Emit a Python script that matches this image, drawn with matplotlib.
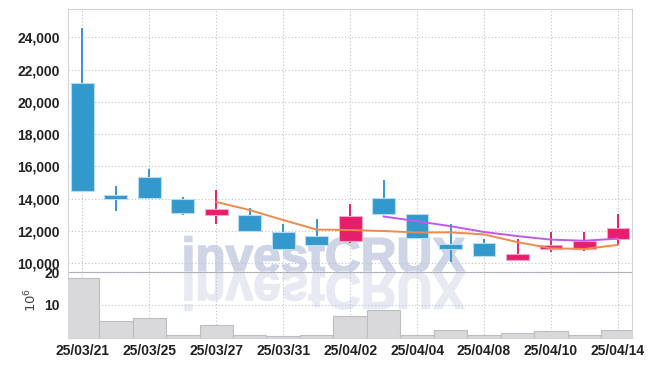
import numpy as np
import pandas as pd
import matplotlib
matplotlib.use('Agg')
import matplotlib.pyplot as plt
from matplotlib.textpath import TextPath
from matplotlib.font_manager import FontProperties
from matplotlib.patches import PathPatch
from matplotlib.transforms import Affine2D


# ---------------------------------------------
# data
# ---------------------------------------------
dates = ['25/03/21', '25/03/24', '25/03/25', '25/03/26', '25/03/27', '25/03/28',
         '25/03/31', '25/04/01', '25/04/02', '25/04/03', '25/04/04', '25/04/07',
         '25/04/08', '25/04/09', '25/04/10', '25/04/11', '25/04/14']
opens = [21150, 14200, 15350, 14000, 13000, 13000, 11950, 11700, 11400,
         14050, 13050, 11200, 11250, 10200, 10850, 10850, 11500]
highs = [24550, 14750, 15850, 14100, 14550, 13400, 12450, 12750, 13650,
         15150, 13050, 12400, 11500, 11500, 11950, 11900, 13050]
lows = [14500, 13250, 14000, 13000, 12400, 12000, 10850, 11050, 11250,
        13050, 11550, 10100, 10450, 10200, 10700, 10750, 11200]
closes = [14500, 13950, 14050, 13100, 13350, 12000, 10850, 11100, 12950,
          13050, 11550, 10900, 10450, 10550, 11150, 11350, 12150]
volumes = [18.1, 5.0, 5.9, 0.7, 3.7, 0.7, 0.35, 0.7, 6.5,
           8.3, 0.7, 2.2, 0.7, 1.3, 1.9, 0.7, 2.2]  # x 10^6

price_ticks = [10000, 12000, 14000, 16000, 18000, 20000, 22000, 24000]
vol_ticks = [10, 20]

df = pd.DataFrame({'open': opens, 'high': highs, 'low': lows,
                   'close': closes, 'volume': volumes})
df['ma5'] = df['close'].rolling(5).mean()
df['ma10'] = df['close'].rolling(10).mean()
x = np.arange(len(dates))

UP = '#e61e6c'
DOWN = '#3399cc'
GRID = '#bcc3d1'
TICK_FONT = dict(family='Liberation Sans', weight='bold', size=10)

# ---------------------------------------------
# figure
# ---------------------------------------------
W, H = 654, 366
fig = plt.figure(figsize=(W / 100, H / 100), dpi=100)
fig.patch.set_facecolor('white')

ax = fig.add_axes([68 / W, 1 - 272 / H, 564 / W, 263 / H])
axv = fig.add_axes([68 / W, 1 - 337.5 / H, 564 / W, 65.5 / H], sharex=ax)
for a in (ax, axv):
    a.set_facecolor('none')

# watermark with reflection (figure pixel coords)
tp = TextPath((0, 0), 'investCRUX', size=1,
              prop=FontProperties(family='Liberation Sans', weight='bold'))
ext = tp.get_extents()
sx = (465 - 185) / ext.width
sy = (272 - 236) / ext.height
base = H - 272
wm = Affine2D().translate(-ext.x0, 0).scale(sx, sy).translate(185, base)
wm_ref = Affine2D().translate(-ext.x0, 0).scale(sx, -sy * 1.08).translate(185, base)
fig.add_artist(PathPatch(tp, transform=wm, facecolor='#cfd5e7',
                         edgecolor='#cfd5e7', linewidth=1.2, zorder=-1))
fig.add_artist(PathPatch(tp, transform=wm_ref, facecolor='#e7eaf2',
                         edgecolor='#e7eaf2', linewidth=1.2, zorder=-1))

# candles
colors = [UP if c > o else DOWN for o, c in zip(df['open'], df['close'])]
edge = ['#f7a8c6' if c == UP else '#b5dcef' for c in colors]
ax.vlines(x, df['low'], df['high'], colors=colors, linewidth=1.4, zorder=3)
body = (df['close'] - df['open']).abs()
ax.bar(x, body, bottom=np.minimum(df['open'], df['close']), width=0.68,
       color=colors, edgecolor=edge, linewidth=0.8, zorder=4)

# moving averages
ax.plot(x, df['ma5'], color='#f0894e', linewidth=1.4, zorder=5)
ax.plot(x, df['ma10'], color='#c25ae8', linewidth=1.4, zorder=5)

ax.set_xlim(-0.43, 16.42)
ax.set_ylim(9450, 25750)
ax.set_yticks(price_ticks)
ax.set_yticklabels([f'{v:,}' for v in price_ticks], **TICK_FONT, color='#222')
ax.set_xticks(x[::2])
ax.tick_params(axis='x', labelbottom=False, length=0)
ax.tick_params(axis='y', length=0, pad=6)
ax.grid(True, color=GRID, linestyle=(0, (1, 2)), linewidth=0.8, zorder=0)
ax.set_axisbelow(True)
for side in ('top', 'left', 'right'):
    ax.spines[side].set_color('#d4d4d8')
ax.spines['bottom'].set_color('#a8a8b0')

# volume
axv.bar(x, df['volume'], width=1.0, color='#d9d9dc', edgecolor='#bdbdc3',
        linewidth=0.8, zorder=3)
axv.set_ylim(0, 20)
axv.set_yticks(vol_ticks)
axv.set_yticklabels([str(v) for v in vol_ticks], **TICK_FONT, color='#222')
axv.set_xticks(x[::2])
axv.set_xticklabels(dates[::2], **TICK_FONT, color='#222')
axv.tick_params(length=0)
axv.tick_params(axis='y', pad=6)
axv.tick_params(axis='x', pad=5)
axv.grid(True, color=GRID, linestyle=(0, (1, 2)), linewidth=0.8, zorder=0)
axv.set_axisbelow(True)
axv.spines['top'].set_visible(False)
for side in ('bottom', 'left', 'right'):
    axv.spines[side].set_color('#d4d4d8')

fig.text(31 / W, 1 - 300 / H, r'$10^6$', rotation=90, ha='center',
         va='center', fontsize=9.5, color='#444')

fig.savefig('out.png', dpi=100)
